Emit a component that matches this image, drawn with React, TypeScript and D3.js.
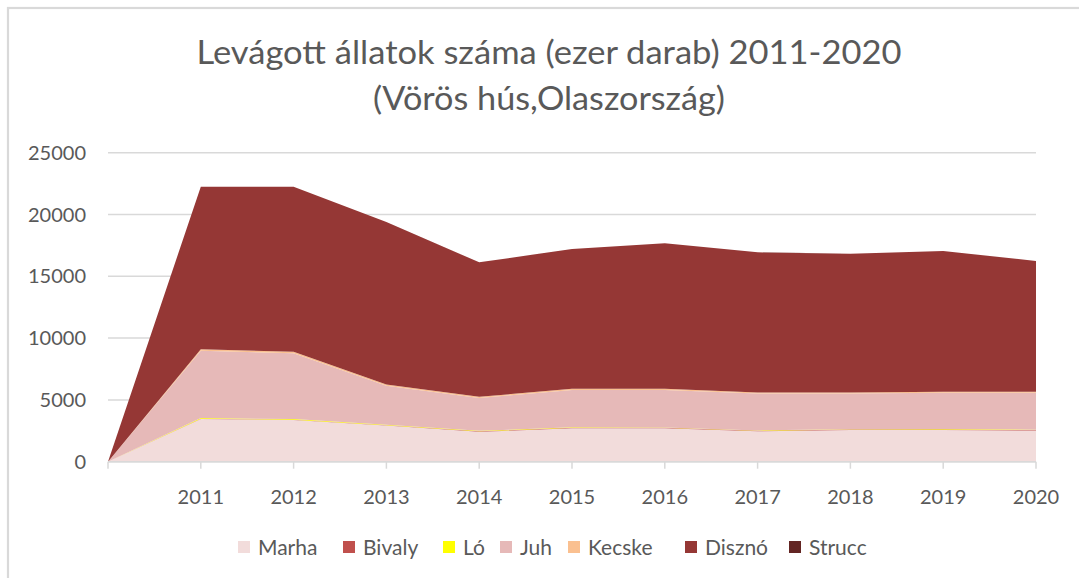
import React from "react";
import * as d3 from "d3";

const categories = ["", "2011", "2012", "2013", "2014", "2015", "2016", "2017", "2018", "2019", "2020"];
const seriesNames = ["Marha", "Bivaly", "Ló", "Juh", "Kecske", "Disznó", "Strucc"];
const marha = [0, 3450, 3380, 2920, 2420, 2700, 2700, 2460, 2560, 2570, 2520];
const bivaly = [0, 20, 20, 20, 40, 40, 40, 40, 40, 40, 40];
const lo = [0, 60, 50, 50, 40, 40, 30, 30, 30, 30, 30];
const juh = [0, 5440, 5330, 3160, 2660, 3030, 3040, 2990, 2890, 2930, 2980];
const kecske = [0, 130, 120, 100, 90, 90, 90, 80, 80, 80, 80];
const diszno = [0, 13150, 13350, 13140, 10880, 11310, 11770, 11340, 11230, 11395, 10590];
const strucc = [0, 2, 2, 2, 2, 2, 2, 2, 2, 2, 2];
const colors = ["#F2DCDB", "#C0504D", "#FFFF00", "#E6B9B8", "#FAC090", "#953735", "#632523"];
const yTicks = [0, 5000, 10000, 15000, 20000, 25000];

const FONT = "Lato, 'Open Sans', sans-serif";
const TXT = "#595959";

export default function App() {
  const seriesValues = [marha, bivaly, lo, juh, kecske, diszno, strucc];
  const rows = categories.map((c, i) => {
    const r: Record<string, any> = { cat: c };
    seriesNames.forEach((n, k) => (r[n] = seriesValues[k][i]));
    return r;
  });
  const stacked = d3.stack().keys(seriesNames)(rows as any);
  const x = d3.scalePoint<string>().domain(categories).range([108, 1036]);
  const y = d3.scaleLinear().domain([0, 25000]).range([461.7, 152.7]);
  const area = d3
    .area<any>()
    .x((d) => x(d.data.cat) as number)
    .y0((d) => y(d[0]))
    .y1((d) => y(d[1]));

  const legendX = [238, 343, 443, 500, 568, 685, 789];

  return (
    <svg
      width={1079}
      height={578}
      style={{ position: "absolute", left: 0, top: 0, background: "#fff" }}
      fontFamily={FONT}
    >
      <rect x={0} y={0} width={1079} height={578} fill="#fff" />
      <rect x={8} y={8} width={1200} height={700} fill="#fff" stroke="#d9d9d9" strokeWidth={2.2} />
      <text x={549} y={64} textAnchor="middle" fontSize={32} fill={TXT} textLength={705} lengthAdjust="spacingAndGlyphs">
        Levágott állatok száma (ezer darab) 2011-2020
      </text>
      <text x={549} y={110} textAnchor="middle" fontSize={32} fill={TXT} textLength={352} lengthAdjust="spacingAndGlyphs">
        (Vörös hús,Olaszország)
      </text>
      {yTicks.map((t) => (
        <g key={t}>
          <line x1={108} x2={1036} y1={y(t)} y2={y(t)} stroke="#d9d9d9" strokeWidth={1.5} />
          <text x={86} y={y(t) + 7} textAnchor="end" fontSize={20} fill={TXT}>
            {t}
          </text>
        </g>
      ))}
      {stacked.map((s, k) => (
        <path key={s.key} d={area(s as any) || ""} fill={colors[k]} />
      ))}
      <line x1={108} x2={1036} y1={y(0)} y2={y(0)} stroke="#d9d9d9" strokeWidth={1.5} />
      {categories.map((c) => (
        <g key={"t" + c}>
          <line x1={x(c)} x2={x(c)} y1={y(0)} y2={y(0) + 7} stroke="#d9d9d9" strokeWidth={1.5} />
          <text x={x(c)} y={504} textAnchor="middle" fontSize={20} fill={TXT}>
            {c}
          </text>
        </g>
      ))}
      {seriesNames.map((n, k) => (
        <g key={"l" + n}>
          <rect x={legendX[k]} y={541} width={12} height={12} fill={colors[k]} />
          <text x={legendX[k] + 20} y={555} fontSize={21} fill={TXT}>
            {n}
          </text>
        </g>
      ))}
    </svg>
  );
}
